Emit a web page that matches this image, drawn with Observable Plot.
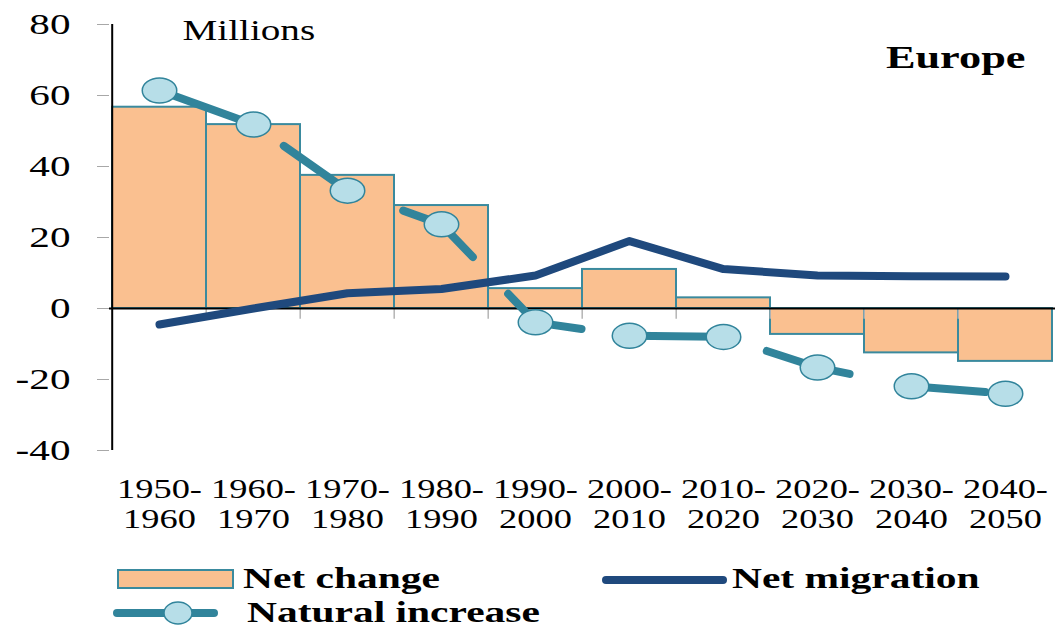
<!DOCTYPE html>
<html>
<head>
<meta charset="utf-8">
<script src="https://cdn.jsdelivr.net/npm/d3@7"></script>
<script src="https://cdn.jsdelivr.net/npm/@observablehq/plot@0.6"></script>
<style>
  html, body { margin: 0; padding: 0; background: #fff; }
  #chart { width: 1058px; height: 630px; overflow: hidden; }
  #chart svg { display: block; }
</style>
</head>
<body>
<div id="chart"></div>
<script>
// ---- Data ----
const periods = ["1950-1960", "1960-1970", "1970-1980", "1980-1990", "1990-2000",
                 "2000-2010", "2010-2020", "2020-2030", "2030-2040", "2040-2050"];
const netChange       = [56.7, 51.8, 37.5, 29.0, 5.6, 11.0, 3.0, -7.3, -12.5, -14.9];
const naturalIncrease = [61.4, 51.8, 33.2, 23.7, -3.9, -7.7, -8.0, -16.6, -21.9, -24.0];
const netMigration    = [-4.5, 0.0, 4.3, 5.5, 9.3, 19.0, 11.1, 9.3, 9.1, 9.0];
const yTicks = [-40, -20, 0, 20, 40, 60, 80];
const unitLabel = "Millions";
const regionLabel = "Europe";
const legendLabels = ["Net change", "Net migration", "Natural increase"];

const data = periods.map((p, i) => ({
  period: p, change: netChange[i], natural: naturalIncrease[i], migration: netMigration[i]
}));

// ---- Styles ----
const W = 1058, H = 540, mL = 109, mR = 3, mT = 24, mB = 90;
const bw = (W - mL - mR) / periods.length;
const orange = "#FAC090", teal = "#31849B", navy = "#1F497D", light = "#B7DEE8";
const font = "'Liberation Serif', 'Times New Roman', serif";

// ellipse symbol for the natural-increase markers
const ellipse = {
  draw(ctx, size) {
    const r = Math.sqrt(size / Math.PI), rx = r * 1.38, ry = r, k = 0.5523;
    ctx.moveTo(rx, 0);
    ctx.bezierCurveTo(rx, k * ry, k * rx, ry, 0, ry);
    ctx.bezierCurveTo(-k * rx, ry, -rx, k * ry, -rx, 0);
    ctx.bezierCurveTo(-rx, -k * ry, -k * rx, -ry, 0, -ry);
    ctx.bezierCurveTo(k * rx, -ry, rx, -k * ry, rx, 0);
    ctx.closePath();
  }
};

const chart = Plot.plot({
  width: W, height: H,
  marginLeft: mL, marginRight: mR, marginTop: mT, marginBottom: mB,
  style: { fontFamily: font, fontSize: "29px", color: "#000", background: "#fff" },
  x: { domain: periods, padding: 0, label: null },
  y: { domain: [-40, 80], label: null },
  marks: [
    Plot.barY(data, { x: "period", y: "change", fill: orange, stroke: "#3A8A9E", strokeWidth: 2, inset: 0 }),
    Plot.ruleX(periods.slice(1), { x: d => d, dx: -bw / 2, y1: 0, y2: -3, stroke: "#b5b5b5", strokeWidth: 1.5 }),
    Plot.ruleY([0], { stroke: "#000", strokeWidth: 2 }),
    Plot.ruleX([periods[0]], { x: d => d, dx: -bw / 2, y1: -40, y2: 80, stroke: "#000", strokeWidth: 2 }),
    Plot.axisY({ ticks: yTicks, tickSize: 12, tickPadding: 27, stroke: "#a8a8a8", fontSize: 29,
                 label: null, tickFormat: d => String(d) }),
    Plot.axisX({ tickSize: 0, tickPadding: 26, fontSize: 28, lineHeight: 1.07, label: null,
                 tickFormat: d => d.replace("-", "-\n") }),
    Plot.lineY(data, { x: "period", y: "migration", stroke: navy, strokeWidth: 8,
                       strokeLinecap: "round", strokeLinejoin: "round" }),
    Plot.lineY(data, { x: "period", y: "natural", stroke: teal, strokeWidth: 8,
                       strokeDasharray: "86,51", strokeLinecap: "round", strokeLinejoin: "round" }),
    Plot.dot(data, { x: "period", y: "natural", r: 12.5, symbol: ellipse,
                     fill: light, stroke: teal, strokeWidth: 1.5 }),
    Plot.text([unitLabel], { frameAnchor: "top-left", dx: 73, dy: -4.6, fontSize: 29, lineAnchor: "top" }),
    Plot.text([regionLabel], { frameAnchor: "top-right", dx: -30, dy: 21, fontSize: 31,
                               fontWeight: "bold", lineAnchor: "top" })
  ]
});

// horizontal stretch of text (reference text is widened)
function stretch(nodes, s) {
  nodes.forEach(node => {
    const t = node.getAttribute("transform");
    if (t) node.setAttribute("transform", t + ` scale(${s},1)`);
    else {
      const x = +node.getAttribute("x") || 0;
      node.setAttribute("transform", `translate(${x},0) scale(${s},1) translate(${-x},0)`);
    }
  });
}
stretch(chart.querySelectorAll('g[aria-label="y-axis tick label"] text'), 1.42);
stretch(chart.querySelectorAll('g[aria-label="x-axis tick label"] text'), 1.3);
chart.querySelectorAll('g[aria-label="text"] text').forEach(n => {
  stretch([n], n.textContent === regionLabel ? 1.43 : 1.35);
});

document.getElementById("chart").appendChild(chart);

// ---- Legend below the plot ----
const leg = d3.create("svg").attr("width", W).attr("height", 630 - H)
  .style("font-family", font).style("font-size", "29px").style("font-weight", "bold");
leg.append("rect").attr("x", 118).attr("y", 30).attr("width", 115).attr("height", 18)
  .attr("fill", orange).attr("stroke", "#3A8A9E").attr("stroke-width", 2);
leg.append("line").attr("x1", 606).attr("x2", 723).attr("y1", 40).attr("y2", 40)
  .attr("stroke", navy).attr("stroke-width", 8).attr("stroke-linecap", "round");
leg.append("line").attr("x1", 117).attr("x2", 214).attr("y1", 73).attr("y2", 73)
  .attr("stroke", teal).attr("stroke-width", 8).attr("stroke-linecap", "round");
leg.append("ellipse").attr("cx", 178).attr("cy", 73).attr("rx", 14).attr("ry", 11)
  .attr("fill", light).attr("stroke", teal).attr("stroke-width", 1.5);
const legPos = [[243, 48], [732, 48], [247, 82]];
legendLabels.forEach((t, i) => {
  leg.append("text").attr("transform", `translate(${legPos[i][0]},${legPos[i][1]}) scale(1.43,1)`)
    .attr("fill", "#000").text(t);
});
document.getElementById("chart").appendChild(leg.node());
</script>
</body>
</html>
